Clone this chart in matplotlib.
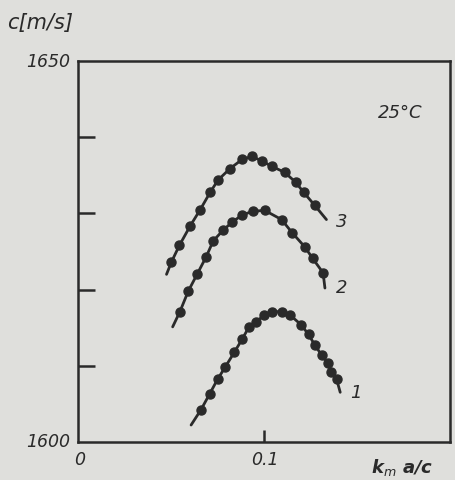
import numpy as np
import matplotlib.pyplot as plt

# curve 1
x1 = [0.0662, 0.0709, 0.0751, 0.0792, 0.0842, 0.0884, 0.0920, 0.0957, 0.1003, 0.1046,
      0.1096, 0.1143, 0.1199, 0.1240, 0.1274, 0.1310, 0.1345, 0.1361, 0.1391]
c1 = [1604.2, 1606.3, 1608.2, 1609.8, 1611.8, 1613.5, 1615.1, 1615.8, 1616.6, 1617.1,
      1617.1, 1616.6, 1615.4, 1614.1, 1612.7, 1611.4, 1610.3, 1609.2, 1608.2]
ends1 = ([0.0609, 0.1410], [1602.2, 1606.5])

# curve 2
x2 = [0.0549, 0.0594, 0.0641, 0.0690, 0.0728, 0.0781, 0.0831, 0.0884, 0.0941, 0.1005,
      0.1095, 0.1151, 0.1220, 0.1262, 0.1318]
c2 = [1617.1, 1619.8, 1622.0, 1624.3, 1626.4, 1627.8, 1628.9, 1629.8, 1630.3, 1630.4,
      1629.2, 1627.5, 1625.6, 1624.1, 1622.2]
ends2 = ([0.0510, 0.1328], [1615.1, 1620.2])

# curve 3
x3 = [0.0503, 0.0546, 0.0605, 0.0658, 0.0712, 0.0754, 0.0818, 0.0883, 0.0936, 0.0989,
      0.1042, 0.1112, 0.1171, 0.1213, 0.1272]
c3 = [1623.6, 1625.8, 1628.4, 1630.5, 1632.8, 1634.4, 1635.9, 1637.1, 1637.5, 1636.9,
      1636.2, 1635.4, 1634.1, 1632.8, 1631.1]
ends3 = ([0.0477, 0.1336], [1622.0, 1629.2])

labels = ['1', '2', '3']
label_pos = [(0.1495, 1606.5), (0.1418, 1620.3), (0.1418, 1629.0)]

bg = '#dfdfdc'
ink = '#2a2a2a'

fig = plt.figure(figsize=(4.55, 4.81), dpi=100, facecolor=bg)
ax = fig.add_axes([0.1708, 0.0795, 0.8183, 0.7910])
ax.set_facecolor(bg)

for xs, cs, ends in [(x1, c1, ends1), (x2, c2, ends2), (x3, c3, ends3)]:
    lx = [ends[0][0]] + xs + [ends[0][1]]
    ly = [ends[1][0]] + cs + [ends[1][1]]
    ax.plot(lx, ly, color=ink, lw=2.0, solid_capstyle='round')
    ax.plot(xs, cs, 'o', color=ink, ms=6.5, mec=ink)

for lab, (lx, ly) in zip(labels, label_pos):
    ax.text(lx, ly, lab, fontsize=13, style='italic', color=ink, ha='center', va='center')

ax.text(0.173, 1643.3, '25°C', fontsize=13, style='italic', color=ink, ha='center', va='center')

ax.set_xlim(0, 0.2)
ax.set_ylim(1600, 1650)
for s in ax.spines.values():
    s.set_color(ink)
    s.set_linewidth(1.8)

ax.set_yticks([1610, 1620, 1630, 1640])
ax.set_yticklabels([])
ax.tick_params(axis='y', direction='in', length=12, width=1.8, color=ink)
ax.set_xticks([0.1])
ax.set_xticklabels([])
ax.tick_params(axis='x', direction='in', length=9, width=1.8, color=ink)

tk = dict(fontsize=12.5, style='italic', color=ink)
fig.text(0.154, 0.0817, '1600', ha='right', va='center', **tk)
fig.text(0.154, 0.8705, '1650', ha='right', va='center', **tk)
fig.text(0.174, 0.044, '0', ha='center', va='center', **tk)
fig.text(0.582, 0.044, '0.1', ha='center', va='center', **tk)
fig.text(0.885, 0.016, 'k$_m$ a/c', ha='center', va='baseline', fontsize=13,
         style='italic', weight='bold', color=ink)
fig.text(0.016, 0.952, 'c[m/s]', ha='left', va='center', fontsize=15,
         style='italic', color=ink)

fig.savefig('out.png', dpi=100, facecolor=bg)
